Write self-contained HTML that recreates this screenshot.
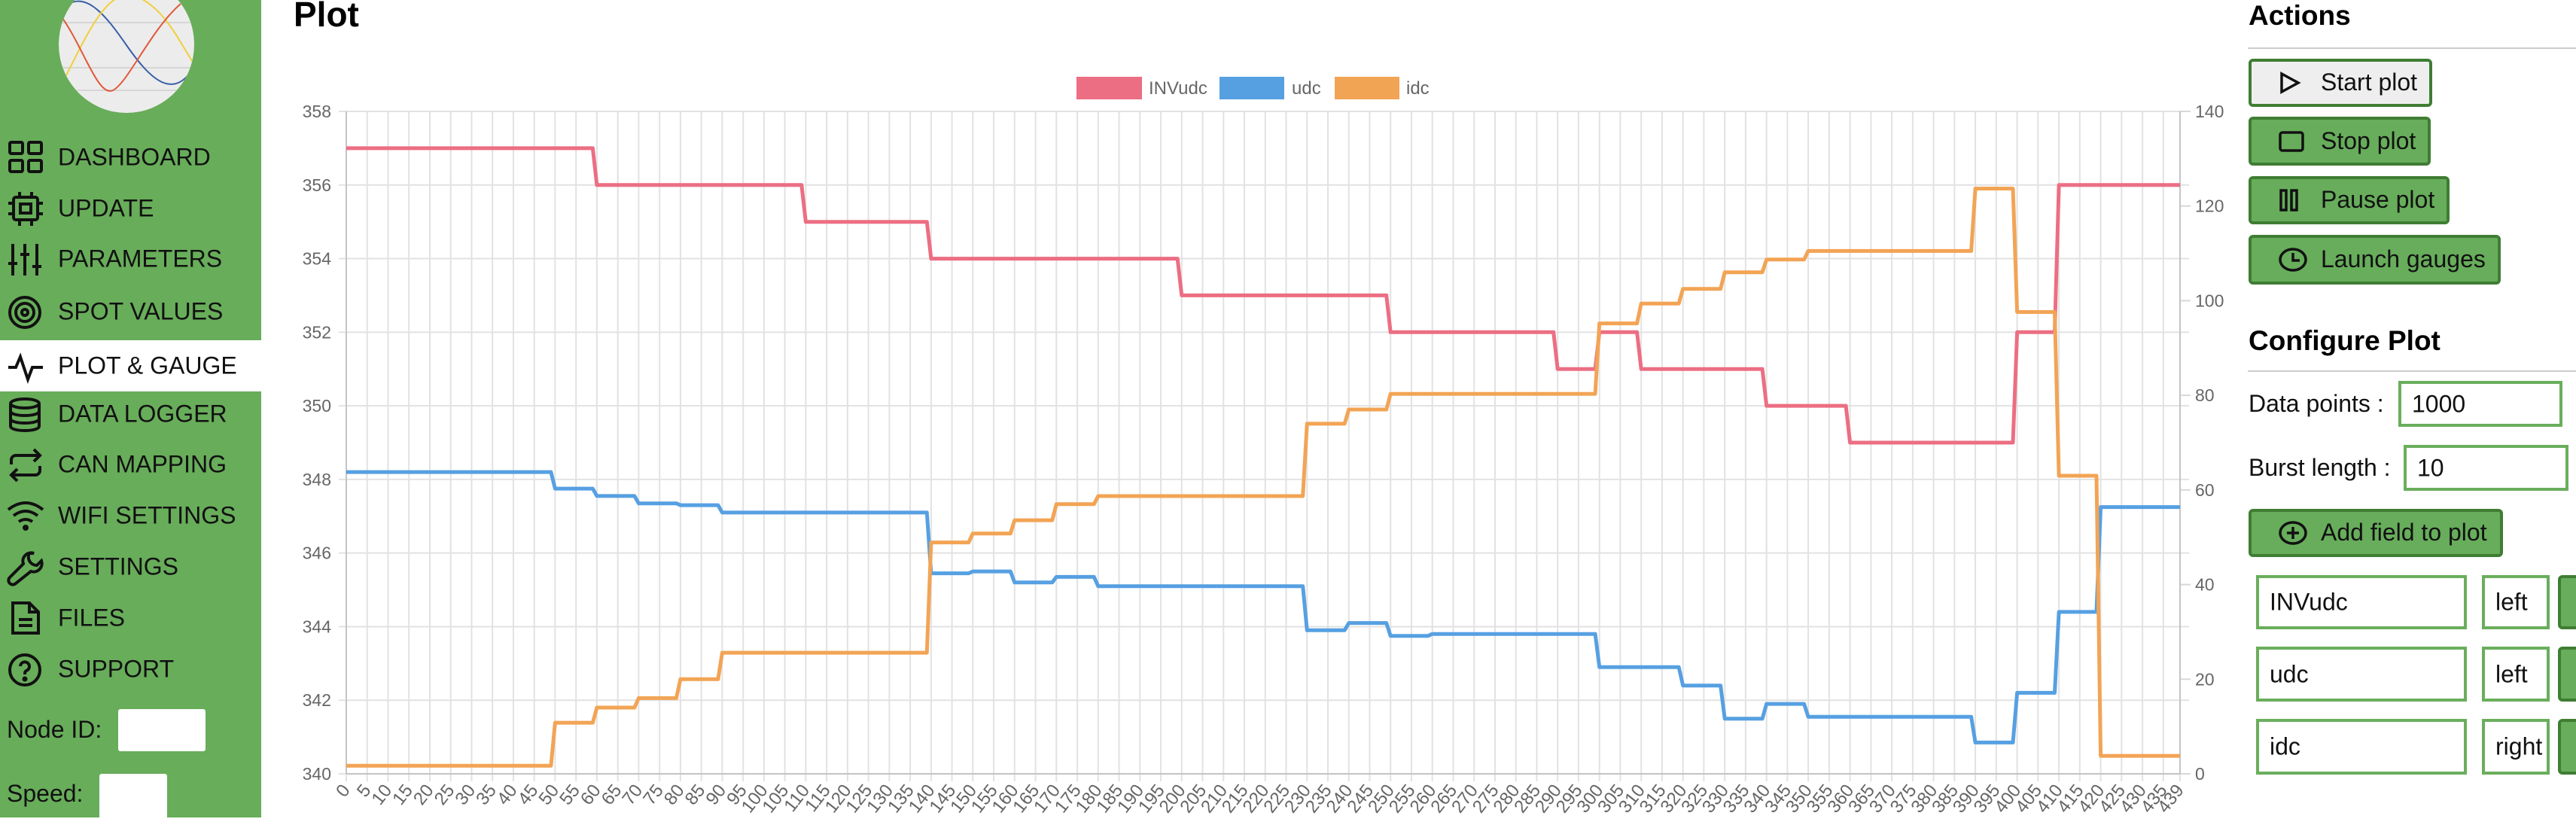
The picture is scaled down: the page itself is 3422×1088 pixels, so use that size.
<!DOCTYPE html>
<html><head><meta charset="utf-8">
<style>
html,body{margin:0;padding:0;width:3422px;height:1086px;overflow:hidden;background:#fff;font-family:"Liberation Sans",Arial,sans-serif;}
#side{position:absolute;left:0;top:0;width:347px;height:1086px;background:#68ad5a;}
.mi{position:absolute;left:0;width:347px;height:68px;}
.mi span{position:absolute;left:77px;top:50%;transform:translateY(-50%);font-size:32px;color:#111;white-space:nowrap;}
.mi svg{position:absolute;left:9px;top:10px;}
.lbl{position:absolute;font-size:32px;color:#111;}
.box{position:absolute;background:#fff;border-radius:3px;}
.btn{position:absolute;left:2987px;box-sizing:border-box;border:4px solid #3f7d33;border-radius:6px;background:#67ad5b;}
.btn span{position:absolute;left:92px;top:50%;transform:translateY(-52%);font-size:32px;color:#111;white-space:nowrap;}
.btn svg{position:absolute;left:36px;top:50%;transform:translateY(-50%);}
.inp{position:absolute;box-sizing:border-box;border:4px solid #6aae5c;background:#fff;font-size:32px;color:#111;}
.inp span{position:absolute;left:14px;top:50%;transform:translateY(-50%);}
h2{margin:0;position:absolute;font-size:37px;font-weight:bold;}
.hr{position:absolute;left:2986px;width:436px;height:2px;background:#ccc;}
</style></head><body>
<div id="side">
<svg width="347" height="160" style="position:absolute;left:0;top:0">
<defs><clipPath id="ec"><ellipse cx="168" cy="59" rx="90" ry="91"/></clipPath></defs>
<ellipse cx="168" cy="59" rx="90" ry="91" fill="#ececec"/>
<g clip-path="url(#ec)" fill="none" stroke-width="2">
<line x1="70" y1="30" x2="270" y2="30" stroke="#d6d6d6"/><line x1="70" y1="90" x2="270" y2="90" stroke="#d6d6d6"/><line x1="70" y1="120" x2="270" y2="120" stroke="#d6d6d6"/>
<path d="M80 15 C110 -20,140 20,168 60 S230 140,260 85" stroke="#3a5fa8"/>
<path d="M80 115 C110 60,140 -20,180 -5 S240 60,258 85" stroke="#f0cf3a"/>
<path d="M80 20 C110 60,130 130,150 120 S200 40,240 5" stroke="#e2583a"/>
</g></svg>
<div class="mi" style="top:175px"><svg width="50" height="50" viewBox="0 0 50 50" fill="none" stroke="#111" stroke-width="4"><rect x="4" y="4" width="17" height="15" rx="2"/><rect x="29" y="4" width="17" height="15" rx="2"/><rect x="4" y="28" width="17" height="15" rx="2"/><rect x="29" y="28" width="17" height="15" rx="2"/></svg><span>DASHBOARD</span></div>
<div class="mi" style="top:243px"><svg width="50" height="50" viewBox="0 0 50 50" fill="none" stroke="#111" stroke-width="4"><rect x="9" y="9" width="32" height="30" rx="3"/><rect x="18" y="18" width="14" height="12"/><path d="M17 2v7M33 2v7M17 39v8M33 39v8M2 17h7M2 31h7M41 17h7M41 31h7"/></svg><span>UPDATE</span></div>
<div class="mi" style="top:310px"><svg width="50" height="50" viewBox="0 0 50 50" fill="none" stroke="#111" stroke-width="4"><path d="M8 4v42M24 4v42M40 4v42M2 30h12M18 18h12M34 34h12"/></svg><span>PARAMETERS</span></div>
<div class="mi" style="top:380px"><svg width="50" height="50" viewBox="0 0 50 50" fill="none" stroke="#111" stroke-width="4"><circle cx="24" cy="25" r="20"/><circle cx="24" cy="25" r="12"/><circle cx="24" cy="25" r="4"/></svg><span>SPOT VALUES</span></div>
<div class="mi" style="top:452px;background:#fff"><svg width="50" height="50" viewBox="0 0 50 50" fill="none" stroke="#111" stroke-width="4"><path d="M2 26h10l6-14 10 30 6-16h14"/></svg><span>PLOT &amp; GAUGE</span></div>
<div class="mi" style="top:516px"><svg width="50" height="50" viewBox="0 0 50 50" fill="none" stroke="#111" stroke-width="4"><ellipse cx="24" cy="10" rx="19" ry="6"/><path d="M5 10v30c0 4 9 6 19 6s19-2 19-6V10M5 20c0 4 9 6 19 6s19-2 19-6M5 30c0 4 9 6 19 6s19-2 19-6"/></svg><span>DATA LOGGER</span></div>
<div class="mi" style="top:583px"><svg width="50" height="50" viewBox="0 0 50 50" fill="none" stroke="#111" stroke-width="4"><path d="M6 24v-6a6 6 0 0 1 6-6h32M36 4l8 8-8 8M44 26v6a6 6 0 0 1-6 6H6M14 30l-8 8 8 8"/></svg><span>CAN MAPPING</span></div>
<div class="mi" style="top:651px"><svg width="50" height="50" viewBox="0 0 50 50" fill="none" stroke="#111" stroke-width="4"><path d="M2 16q23-18 46 0M9 24q16-12 32 0M16 32q9-6 18 0"/><circle cx="25" cy="40" r="2" fill="#111"/></svg><span>WIFI SETTINGS</span></div>
<div class="mi" style="top:719px"><svg width="50" height="50" viewBox="0 0 50 50" fill="none" stroke="#111" stroke-width="4"><path d="M30 6a11 11 0 0 0 10 16l6-6a11 11 0 0 1-14 14L12 46a4 4 0 0 1-8-8L22 20A11 11 0 0 1 36 6z"/></svg><span>SETTINGS</span></div>
<div class="mi" style="top:787px"><svg width="50" height="50" viewBox="0 0 50 50" fill="none" stroke="#111" stroke-width="4"><path d="M8 4h22l12 12v28H8zM30 4v12h12M16 26h18M16 34h18"/></svg><span>FILES</span></div>
<div class="mi" style="top:855px"><svg width="50" height="50" viewBox="0 0 50 50" fill="none" stroke="#111" stroke-width="4"><circle cx="24" cy="25" r="20"/><path d="M18 20a6 6 0 1 1 8 6c-2 1-2 3-2 5"/><circle cx="24" cy="37" r="1.5" fill="#111"/></svg><span>SUPPORT</span></div>
<div class="lbl" style="left:9px;top:951px">Node ID:</div>
<div class="box" style="left:157px;top:942px;width:116px;height:56px"></div>
<div class="lbl" style="left:9px;top:1036px">Speed:</div>
<div class="box" style="left:132px;top:1028px;width:90px;height:60px"></div>
</div>
<div style="position:absolute;left:390px;top:-8px;font-size:46px;font-weight:bold">Plot</div>
<svg id="ch" width="3422" height="1086" style="position:absolute;left:0;top:0" font-family="Liberation Sans, Arial, sans-serif"></svg>
<h2 style="left:2987px;top:0px">Actions</h2>
<div class="hr" style="top:63px"></div>
<div class="btn" style="top:78px;width:244px;height:64px;background:#eee"><svg width="30" height="30" viewBox="0 0 30 30"><path d="M4 3l22 12-22 12z" fill="none" stroke="#111" stroke-width="3.5"/></svg><span>Start plot</span></div>
<div class="btn" style="top:155px;width:242px;height:65px"><svg width="34" height="28" viewBox="0 0 34 28"><rect x="2" y="2" width="30" height="24" rx="3" fill="none" stroke="#111" stroke-width="3.5"/></svg><span>Stop plot</span></div>
<div class="btn" style="top:234px;width:267px;height:64px"><svg width="28" height="30" viewBox="0 0 28 30"><rect x="3" y="2" width="7" height="26" fill="none" stroke="#111" stroke-width="3.5"/><rect x="17" y="2" width="7" height="26" fill="none" stroke="#111" stroke-width="3.5"/></svg><span>Pause plot</span></div>
<div class="btn" style="top:312px;width:335px;height:66px"><svg width="38" height="34" viewBox="0 0 38 34"><ellipse cx="19" cy="17" rx="17" ry="14" fill="none" stroke="#111" stroke-width="3.5"/><path d="M19 8v10h9" fill="none" stroke="#111" stroke-width="3.5"/></svg><span>Launch gauges</span></div>
<h2 style="left:2987px;top:432px">Configure Plot</h2>
<div class="hr" style="top:492px"></div>
<div class="lbl" style="left:2987px;top:518px">Data points :</div>
<div class="inp" style="left:3186px;top:506px;width:218px;height:61px"><span>1000</span></div>
<div class="lbl" style="left:2987px;top:603px">Burst length :</div>
<div class="inp" style="left:3193px;top:591px;width:219px;height:61px"><span>10</span></div>
<div class="btn" style="top:676px;width:338px;height:64px"><svg width="38" height="34" viewBox="0 0 38 34"><ellipse cx="19" cy="17" rx="17" ry="14" fill="none" stroke="#111" stroke-width="3.5"/><path d="M19 9v16M11 17h16" stroke="#111" stroke-width="3.5"/></svg><span>Add field to plot</span></div>
<div class="inp" style="left:2997px;top:764px;width:280px;height:72px"><span>INVudc</span></div>
<div class="inp" style="left:3297px;top:764px;width:90px;height:72px"><span>left</span></div>
<div class="btn" style="left:3398px;top:764px;width:60px;height:72px"></div>
<div class="inp" style="left:2997px;top:859px;width:280px;height:73px"><span>udc</span></div>
<div class="inp" style="left:3297px;top:859px;width:90px;height:73px"><span>left</span></div>
<div class="btn" style="left:3398px;top:859px;width:60px;height:73px"></div>
<div class="inp" style="left:2997px;top:955px;width:280px;height:74px"><span>idc</span></div>
<div class="inp" style="left:3297px;top:955px;width:90px;height:74px"><span>right</span></div>
<div class="btn" style="left:3398px;top:955px;width:60px;height:74px"></div>
<script>
(function(){
var s=document.getElementById('ch'),h='';
var L=460,R=2896,T=148,B=1028;
function X(i){return L+i*(R-L)/439;}
function YL(v){return T+(358-v)*(B-T)/18;}
function YR(v){return B-v*(B-T)/140;}
var idx=[];for(var i=0;i<=435;i+=5)idx.push(i);idx.push(439);
idx.forEach(function(i){var x=X(i).toFixed(1);
h+='<line x1="'+x+'" y1="'+T+'" x2="'+x+'" y2="'+(B+10)+'" stroke="#e2e2e2" stroke-width="2"/>';
h+='<text x="0" y="0" font-size="24" fill="#666" text-anchor="end" transform="translate('+(X(i)+6)+','+(B+22)+') rotate(-52)">'+i+'</text>';});
for(var k=0;k<=9;k++){var y=T+k*(B-T)/9;
h+='<line x1="'+(L-10)+'" y1="'+y+'" x2="'+(R+12)+'" y2="'+y+'" stroke="#e2e2e2" stroke-width="2"/>';
h+='<text x="440" y="'+(y+8)+'" font-size="23" fill="#666" text-anchor="end">'+(358-2*k)+'</text>';}
for(var k=0;k<=7;k++){var y=T+k*(B-T)/7;
h+='<line x1="'+R+'" y1="'+y+'" x2="'+(R+14)+'" y2="'+y+'" stroke="#d8d8d8" stroke-width="2"/>';
h+='<text x="2916" y="'+(y+8)+'" font-size="23" fill="#666">'+(140-20*k)+'</text>';}
h+='<line x1="'+L+'" y1="'+T+'" x2="'+L+'" y2="'+B+'" stroke="#c4c4c4" stroke-width="2"/>';
h+='<line x1="'+R+'" y1="'+T+'" x2="'+R+'" y2="'+B+'" stroke="#c4c4c4" stroke-width="2"/>';
h+='<line x1="'+L+'" y1="'+B+'" x2="'+R+'" y2="'+B+'" stroke="#c4c4c4" stroke-width="2"/>';
function ser(st,f,c){var p=[],j=0;for(var i=0;i<=439;i++){while(j+1<st.length&&st[j+1][0]<=i)j++;p.push(X(i).toFixed(1)+','+f(st[j][1]).toFixed(1));}
return '<polyline points="'+p.join(' ')+'" fill="none" stroke="'+c+'" stroke-width="5" stroke-linejoin="round"/>';}
var red=[[0,357],[60,356],[110,355],[140,354],[200,353],[250,352],[290,351],[300,352],[310,351],[340,350],[360,349],[400,352],[410,356]];
var blue=[[0,348.2],[50,347.75],[60,347.55],[70,347.35],[80,347.3],[90,347.1],[140,345.45],[150,345.5],[160,345.2],[170,345.35],[180,345.1],[230,343.9],[240,344.1],[250,343.75],[260,343.8],[300,342.9],[320,342.4],[330,341.5],[340,341.9],[350,341.55],[390,340.85],[400,342.2],[410,344.4],[420,347.25]];
var or=[[0,1.7],[50,10.8],[60,14],[70,16],[80,20],[90,25.6],[140,48.9],[150,50.8],[160,53.6],[170,57],[180,58.7],[230,74],[240,77],[250,80.3],[300,95.2],[310,99.4],[320,102.5],[330,106],[340,108.7],[350,110.5],[390,123.7],[400,97.6],[410,63],[420,3.8]];
h+=ser(red,YL,'#ec6e83');h+=ser(blue,YL,'#56a0e2');h+=ser(or,YR,'#f2a455');
h+='<rect x="1430" y="102" width="87" height="30" fill="#ec6e83"/><text x="1526" y="125" font-size="24" fill="#666">INVudc</text>';
h+='<rect x="1620" y="102" width="86" height="30" fill="#56a0e2"/><text x="1716" y="125" font-size="24" fill="#666">udc</text>';
h+='<rect x="1773" y="102" width="86" height="30" fill="#f2a455"/><text x="1868" y="125" font-size="24" fill="#666">idc</text>';
s.innerHTML=h;})();
</script>
</body></html>
